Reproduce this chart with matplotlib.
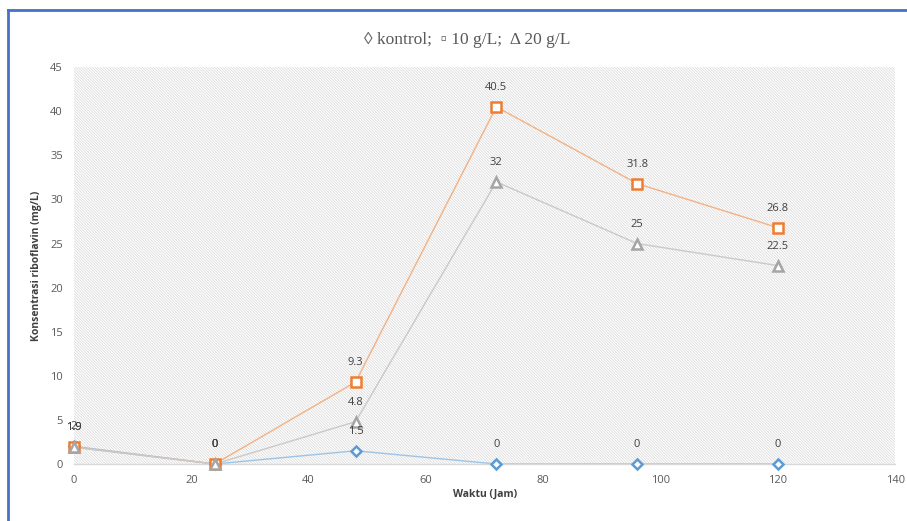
import matplotlib.pyplot as plt
from matplotlib.patches import Rectangle
from matplotlib.lines import Line2D

plt.rcParams['hatch.linewidth'] = 0.5
plt.rcParams['font.family'] = ['Open Sans', 'DejaVu Sans']

# waktu fermentasi (jam) dan konsentrasi riboflavin (mg/L)
waktu = [0, 24, 48, 72, 96, 120]
kontrol = [2, 0, 1.5, 0, 0, 0]
glukosa_10 = [1.9, 0, 9.3, 40.5, 31.8, 26.8]
glukosa_20 = [1.9, 0, 4.8, 32, 25, 22.5]

x_ticks = [0, 20, 40, 60, 80, 100, 120, 140]
y_ticks = [0, 5, 10, 15, 20, 25, 30, 35, 40, 45]

# (data, warna garis, warna marker, marker, ukuran)
series = [
    (kontrol, '#9DC3E6', '#5B9BD5', 'D', 5.5),
    (glukosa_10, '#F4B183', '#ED7D31', 's', 7),
    (glukosa_20, '#C9C9C9', '#A5A5A5', '^', 7),
]

fig = plt.figure(figsize=(9.07, 5.21), dpi=100)
ax = fig.add_axes([0.0816, 0.1094, 0.9054, 0.7616])

# latar belakang bergaris miring
bg = Rectangle((0, 0), 1, 1, transform=ax.transAxes, facecolor='white',
               edgecolor='#D6D6D6', hatch='\\' * 12, linewidth=0, zorder=0)
ax.add_patch(bg)

for vals, lcolor, mcolor, marker, ms in series:
    ax.plot(waktu, vals, color=lcolor, linewidth=1.0, zorder=2)
    ax.plot(waktu, vals, linestyle='none', marker=marker, markersize=ms,
            markerfacecolor='white', markeredgecolor=mcolor,
            markeredgewidth=1.8, zorder=3, clip_on=False)
    for x, y in zip(waktu, vals):
        ax.annotate('{:g}'.format(y), (x, y), xytext=(0, 14),
                    textcoords='offset points', ha='center', va='center',
                    fontsize=8, color='#404040', zorder=4)

ax.set_xlim(0, 140)
ax.set_ylim(0, 45)
ax.set_xticks(x_ticks)
ax.set_yticks(y_ticks)
ax.tick_params(length=0, labelsize=8, colors='#595959', pad=8)
for side in ['top', 'right', 'left']:
    ax.spines[side].set_visible(False)
ax.spines['bottom'].set_color('#D9D9D9')
ax.spines['bottom'].set_linewidth(1.0)

ax.set_xlabel('Waktu (Jam)', fontsize=7.5, fontweight='bold', color='#404040',
              labelpad=2)
ax.set_ylabel('Konsentrasi riboflavin (mg/L)', fontsize=7.5,
              fontweight='bold', color='#404040', labelpad=6)

fig.text(0.515, 0.923, '\u25CA kontrol;  \u25AB 10 g/L;  \u0394 20 g/L',
         ha='center', va='center', fontsize=12.5, color='#595959',
         family=['Liberation Serif', 'DejaVu Serif'])

# bingkai biru di sisi atas dan kiri
fig.add_artist(Line2D([0.009, 1.0], [0.981, 0.981], color='#4472C4',
                      linewidth=2, transform=fig.transFigure))
fig.add_artist(Line2D([0.009, 0.009], [0.0, 0.981], color='#4472C4',
                      linewidth=2, transform=fig.transFigure))

fig.savefig('out.png', dpi=100)
